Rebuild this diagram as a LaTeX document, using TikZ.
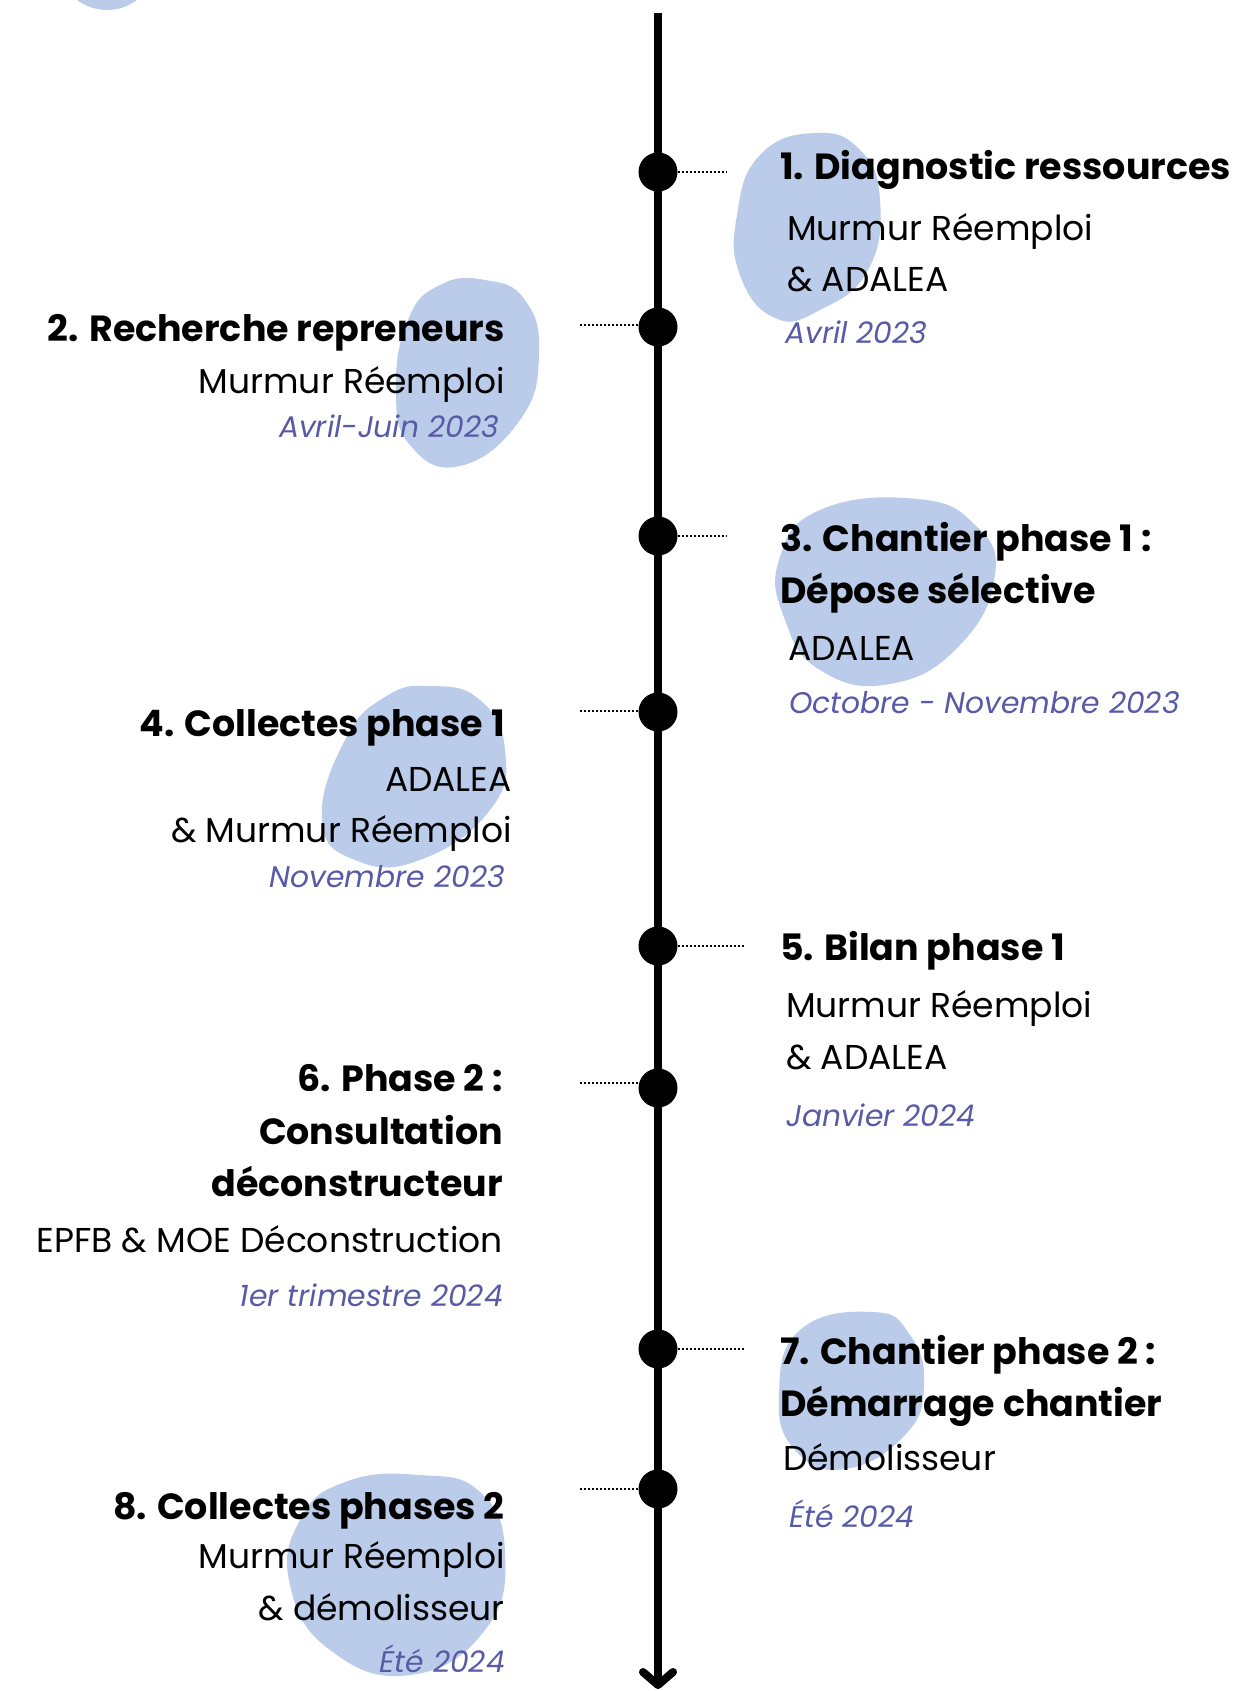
\documentclass[tikz,border=0pt]{standalone}
\usepackage{fontspec}
\setmainfont{Poppins}
\usetikzlibrary{shapes.geometric,arrows.meta}
\definecolor{blob}{RGB}{187,204,234}
\definecolor{datec}{RGB}{88,90,165}
\tikzset{
  blobfill/.style={fill=blob, draw=none},
  dotnode/.style={circle, fill=black, minimum size=39pt, inner sep=0pt},
  conn/.style={line width=1.8pt, dash pattern=on 1.8pt off 2.2pt},
  ttl/.style={inner sep=0pt, font=\fontsize{36.4}{40}\selectfont\bfseries},
  who/.style={inner sep=0pt, font=\fontsize{34.5}{40}\selectfont},
  when/.style={inner sep=0pt, text=datec, font=\fontsize{29.8}{34}\selectfont\itshape},
  R/.style={anchor=base west},
  L/.style={anchor=base east},
}
\begin{document}
\begin{tikzpicture}[x=1pt,y=-1pt]
\useasboundingbox (0,0) rectangle (1238,1691);
\fill[white] (0,0) rectangle (1238,1691);
% blobs
\begin{scope}
\clip (0,0) rectangle (1238,1691);
\fill[blobfill] (107,-40) ellipse [x radius=50, y radius=50];
\end{scope}
\fill[blobfill] plot[smooth cycle, tension=0.8] coordinates {(815,133) (860,150) (880,200) (868,270) (820,310) (775,318) (740,275) (737,215) (760,155)};
\fill[blobfill] plot[smooth cycle, tension=0.8] coordinates {(485,280) (525,300) (539,355) (520,420) (460,466) (410,445) (396,390) (408,320) (440,285)};
\fill[blobfill] plot[smooth cycle, tension=0.8] coordinates {(917,499) (975,525) (995,575) (960,645) (890,684) (820,670) (785,620) (779,560) (820,510)};
\fill[blobfill] plot[smooth cycle, tension=0.8] coordinates {(431,686) (480,700) (505,750) (490,810) (420,860) (355,860) (322,820) (345,740) (385,697)};
\fill[blobfill] plot[smooth cycle, tension=0.8] coordinates {(873,1312) (910,1335) (924,1385) (905,1435) (845,1469) (795,1450) (779,1395) (800,1330)};
\fill[blobfill] plot[smooth cycle, tension=0.8] coordinates {(420,1475) (480,1492) (505,1553) (485,1630) (410,1675) (330,1650) (290,1585) (300,1520) (345,1482)};
% timeline
\coordinate (top) at (658,13);
\coordinate (bot) at (658,1689);
\draw[line width=8pt, -{Straight Barb[length=13pt,width=30pt,round]}] (top) -- (bot);
% dots
\node[dotnode] (p1) at (658,172) {};
\node[dotnode] (p2) at (658,327) {};
\node[dotnode] (p3) at (658,536) {};
\node[dotnode] (p4) at (658,712) {};
\node[dotnode] (p5) at (658,946) {};
\node[dotnode] (p6) at (658,1088) {};
\node[dotnode] (p7) at (658,1349) {};
\node[dotnode] (p8) at (658,1489) {};
% connectors
\coordinate (c1) at (727,172);
\coordinate (c2) at (580,325);
\coordinate (c3) at (727,536);
\coordinate (c4) at (580,711);
\coordinate (c5) at (744,946);
\coordinate (c6) at (580,1083);
\coordinate (c7) at (744,1349);
\coordinate (c8) at (580,1489);
\draw[conn] (p1.east) -- (c1);
\draw[conn] (c2) -- (p2.west |- c2);
\draw[conn] (p3.east) -- (c3);
\draw[conn] (c4) -- (p4.west |- c4);
\draw[conn] (p5.east) -- (c5);
\draw[conn] (c6) -- ([xshift=2pt]p6.west |- c6);
\draw[conn] (p7.east) -- (c7);
\draw[conn] (c8) -- (p8.west |- c8);
% item 1
\node[ttl,R] (t1) at (780,179) {1. Diagnostic ressources};
\node[who,R] (w1a) at (787,240) {Murmur Réemploi};
\node[who,R] (w1b) at (787,291) {\& ADALEA};
\node[when,R] (d1) at (785,343) {Avril 2023};
% item 2
\node[ttl,L] (t2) at (505,341) {2. Recherche repreneurs};
\node[who,L] (w2a) at (505,393) {Murmur Réemploi};
\node[when,L] (d2) at (499,437) {Avril-Juin 2023};
% item 3
\node[ttl,R] (t3a) at (780,551) {3. Chantier phase 1 :};
\node[ttl,R] (t3b) at (780,603) {Dépose sélective};
\node[who,R] (w3a) at (788,660) {ADALEA};
\node[when,R] (d3) at (789,713) {Octobre - Novembre 2023};
% item 4
\node[ttl,L] (t4) at (505,736) {4. Collectes phase 1};
\node[who,L] (w4a) at (512,791) {ADALEA};
\node[who,L] (w4b) at (512,842) {\& Murmur Réemploi};
\node[when,L] (d4) at (505,887) {Novembre 2023};
% item 5
\node[ttl,R] (t5) at (780,960) {5. Bilan phase 1};
\node[who,R] (w5a) at (786,1017) {Murmur Réemploi};
\node[who,R] (w5b) at (786,1069) {\& ADALEA};
\node[when,R] (d5) at (786,1126) {Janvier 2024};
% item 6
\node[ttl,L] (t6a) at (503,1091) {6. Phase 2 :};
\node[ttl,L] (t6b) at (503,1144) {Consultation};
\node[ttl,L] (t6c) at (503,1196) {déconstructeur};
\node[who,L] (w6a) at (503,1252) {EPFB \& MOE Déconstruction};
\node[when,L] (d6) at (503,1306) {1er trimestre 2024};
% item 7
\node[ttl,R] (t7a) at (780,1364) {7. Chantier phase 2 :};
\node[ttl,R] (t7b) at (780,1416) {Démarrage chantier};
\node[who,R] (w7a) at (783,1470) {Démolisseur};
\node[when,R] (d7) at (789,1527) {Été 2024};
% item 8
\node[ttl,L] (t8) at (505,1519) {8. Collectes phases 2};
\node[who,L] (w8a) at (505,1568) {Murmur Réemploi};
\node[who,L] (w8b) at (505,1620) {\& démolisseur};
\node[when,L] (d8) at (505,1672) {Été 2024};
\end{tikzpicture}
\end{document}
